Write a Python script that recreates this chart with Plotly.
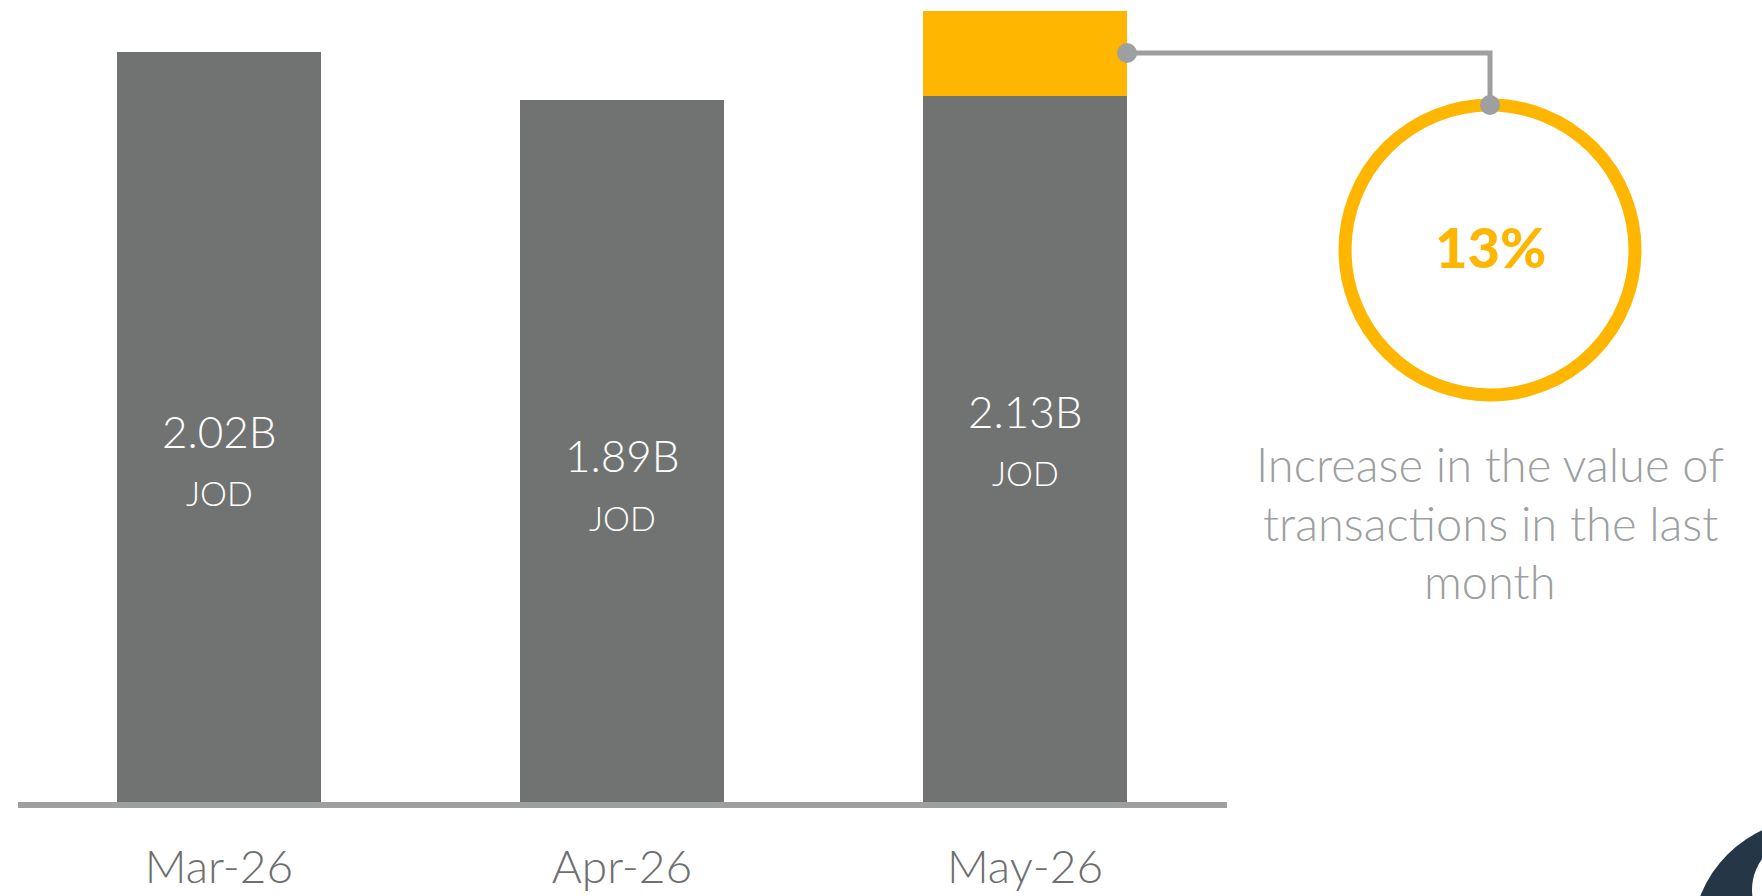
import plotly.graph_objects as go

# data
months = ["Mar-26", "Apr-26", "May-26"]
values = [2.02, 1.89, 2.13]          # total transaction value, billions JOD
base_part = [2.02, 1.89, 1.90]       # grey part of each bar
increase_part = [0, 0, 0.23]         # yellow part (growth shown on last bar)
currency = "JOD"
note_lines = ["Increase in the value of", "transactions in the last", "month"]

W, H = 1762, 896
GREY = "#717372"
YELLOW = "#FFB600"
LIGHT = "#9D9FA0"
FONT = "Lato"


def px(x):
    return x / W


def py(y):
    return 1 - y / H


growth = round(100 * (values[2] - values[1]) / values[1])

fig = go.Figure()
fig.add_trace(go.Bar(x=months, y=base_part, marker=dict(color=GREY, line=dict(width=0)),
                     width=0.504, hoverinfo="skip"))
fig.add_trace(go.Bar(x=months, y=increase_part, marker=dict(color=YELLOW, line=dict(width=0)),
                     width=0.504, hoverinfo="skip"))

# value labels inside bars
for m, v in zip(months, values):
    fig.add_annotation(x=m, y=v / 2, text=f"{v:.2f}B", showarrow=False, yshift=-4,
                       font=dict(family=FONT, size=44, color="white", weight=300))
    fig.add_annotation(x=m, y=v / 2, text=currency, showarrow=False, yshift=-66,
                       font=dict(family=FONT, size=34, color="white", weight=300))

# callout circle + connector
cx, cy, r = 1490, 250, 145
fig.add_shape(type="circle", xref="paper", yref="paper",
              x0=px(cx - r), x1=px(cx + r), y0=py(cy + r), y1=py(cy - r),
              line=dict(color=YELLOW, width=13))
fig.add_shape(type="path", xref="paper", yref="paper",
              path=f"M {px(1127)} {py(53)} L {px(cx)} {py(53)} L {px(cx)} {py(cy - r)}",
              line=dict(color=LIGHT, width=5))
for dx, dy in [(1127, 53), (cx, cy - r)]:
    fig.add_shape(type="circle", xref="paper", yref="paper",
                  x0=px(dx - 10), x1=px(dx + 10), y0=py(dy + 10), y1=py(dy - 10),
                  fillcolor=LIGHT, line=dict(width=0))

fig.add_annotation(xref="paper", yref="paper", x=px(cx), y=py(cy - 3), text=f"{growth}%",
                   xanchor="center", yanchor="middle", showarrow=False,
                   font=dict(family=FONT, size=56, color=YELLOW, weight=900))
for i, line in enumerate(note_lines):
    fig.add_annotation(xref="paper", yref="paper", x=px(cx), y=py(464 + 58.5 * i), text=line,
                       xanchor="center", yanchor="middle", showarrow=False,
                       font=dict(family=FONT, size=47, color=LIGHT, weight=300))

# baseline
fig.add_shape(type="line", xref="paper", yref="paper",
              x0=px(18), x1=px(1227), y0=py(805), y1=py(805),
              line=dict(color=LIGHT, width=6))

# corner logo fragment
fig.add_shape(type="circle", xref="paper", yref="paper",
              x0=px(1813 - 121), x1=px(1813 + 121), y0=py(940 + 121), y1=py(940 - 121),
              fillcolor="#253746", line=dict(width=0))
fig.add_shape(type="circle", xref="paper", yref="paper",
              x0=px(1805 - 53), x1=px(1805 + 53), y0=py(890 + 53), y1=py(890 - 53),
              fillcolor="white", line=dict(width=0))

fig.update_layout(
    width=W, height=H, barmode="stack", showlegend=False,
    margin=dict(l=0, r=0, t=0, b=0, pad=0),
    paper_bgcolor="white", plot_bgcolor="white",
    xaxis=dict(domain=[px(17.5), px(1226.5)], showgrid=False, showline=False, zeroline=False,
               ticks="", automargin=False, ticklabelstandoff=34,
               tickfont=dict(family=FONT, size=46, color="#6E6F6F", weight=300)),
    yaxis=dict(domain=[(H - 802) / H, 1], range=[0, values[2] * 802 / 791], visible=False,
               automargin=False),
)

# drop the browser's default page margin so the figure sits at the corner
fig.write_html("out.html", config={"displayModeBar": False},
               post_script="document.body.style.margin='0px';")
